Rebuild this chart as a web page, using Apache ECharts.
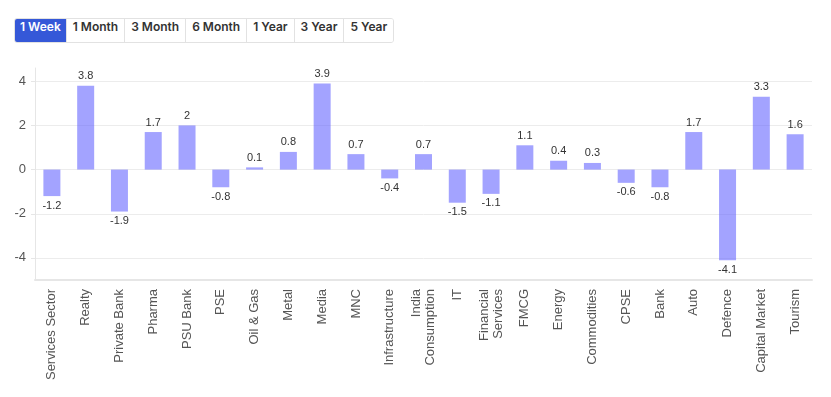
<!DOCTYPE html>
<html>
<head>
<meta charset="utf-8">
<script src="https://cdn.jsdelivr.net/npm/echarts@6/dist/echarts.min.js"></script>
<style>
  html, body { margin: 0; padding: 0; background: #fff; }
  #wrap { position: relative; width: 831px; height: 397px; }
  #chart { position: absolute; left: 0; top: 0; width: 831px; height: 397px; }
  .tabs { position: absolute; left: 14px; top: 18px; display: flex; z-index: 2;
          border: 1px solid #e2e2e2; border-radius: 3px; overflow: hidden; }
  .tabs div { height: 23px; line-height: 23px; padding: 0 6px; font: 600 12px "Inter", "Noto Sans", sans-serif;
              color: #333; border-left: 1px solid #e2e2e2; background: #fff; }
  .tabs div:first-child { border-left: none; padding: 0 5px; }
  .tabs div.on { background: #3558d8; color: #fff; }
</style>
</head>
<body>
<div id="wrap">
  <div id="chart"></div>
  <div class="tabs" id="tabs"></div>
</div>
<script>
var periods = ['1 Week', '1 Month', '3 Month', '6 Month', '1 Year', '3 Year', '5 Year'];

var sectors = ['Services Sector', 'Realty', 'Private Bank', 'Pharma', 'PSU Bank', 'PSE', 'Oil & Gas',
  'Metal', 'Media', 'MNC', 'Infrastructure', 'India\nConsumption', 'IT', 'Financial\nServices',
  'FMCG', 'Energy', 'Commodities', 'CPSE', 'Bank', 'Auto', 'Defence', 'Capital Market', 'Tourism'];

var weekChange = [-1.2, 3.8, -1.9, 1.7, 2, -0.8, 0.1, 0.8, 3.9, 0.7, -0.4, 0.7, -1.5, -1.1,
  1.1, 0.4, 0.3, -0.6, -0.8, 1.7, -4.1, 3.3, 1.6];

var tabs = document.getElementById('tabs');
periods.forEach(function (p, i) {
  var d = document.createElement('div');
  d.textContent = p;
  if (i === 0) d.className = 'on';
  tabs.appendChild(d);
});

var myChart = echarts.init(document.getElementById('chart'));
myChart.setOption({
  animation: false,
  grid: { left: 35, right: 19, top: 68, bottom: 117 },
  xAxis: {
    type: 'category',
    data: sectors,
    axisLine: { onZero: false, lineStyle: { color: '#e6e6e6', width: 2 } },
    axisTick: { alignWithLabel: true, lineStyle: { color: '#e6e6e6' } },
    axisLabel: {
      rotate: 90, interval: 0, margin: 9,
      color: '#555', fontSize: 13, fontFamily: '"Liberation Sans", Arial, sans-serif', lineHeight: 14
    }
  },
  yAxis: {
    type: 'value',
    min: -5, max: 4.6, splitNumber: 5,
    axisLine: { show: true, lineStyle: { color: '#e6e6e6', width: 1 } },
    axisTick: { show: true, length: 4, lineStyle: { color: '#e6e6e6' } },
    axisLabel: {
      color: '#555', fontSize: 13, fontFamily: '"Liberation Sans", Arial, sans-serif', margin: 9,
      showMinLabel: false, showMaxLabel: false
    },
    splitLine: { lineStyle: { color: '#ececec' }, showMinLine: false, showMaxLine: false }
  },
  series: [{
    type: 'bar',
    data: weekChange.map(function (v) {
      return { value: v, label: { position: v < 0 ? 'bottom' : 'top' } };
    }),
    barWidth: 17,
    itemStyle: { color: 'rgba(102,102,255,0.6)' },
    label: {
      show: true, color: '#333', fontSize: 11, fontFamily: '"Liberation Sans", Arial, sans-serif', distance: 4
    }
  }]
});
</script>
</body>
</html>
